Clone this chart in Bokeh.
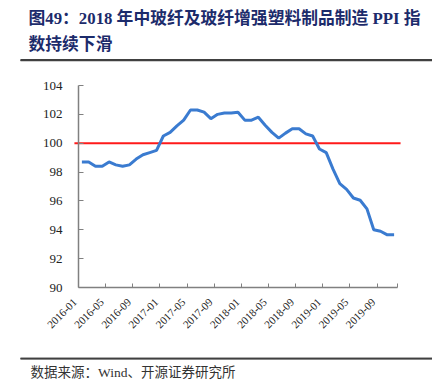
from bokeh.plotting import figure
from bokeh.models import Range1d, FixedTicker, Label, LinearAxis
from bokeh.embed import file_html
from bokeh.resources import INLINE

# ---- data ----
months = [f"{y}-{m:02d}" for y in range(2016, 2020) for m in range(1, 13)][:47]
ppi = [98.7, 98.7, 98.4, 98.4, 98.7, 98.5, 98.4, 98.5, 98.9, 99.2,
       99.35, 99.5, 100.5, 100.75, 101.2, 101.6, 102.3, 102.3, 102.15, 101.7,
       102.0, 102.1, 102.1, 102.15, 101.6, 101.6, 101.8, 101.25, 100.75, 100.35,
       100.7, 101.0, 101.0, 100.65, 100.5, 99.6, 99.35, 98.2, 97.2, 96.8,
       96.2, 96.05, 95.45, 94.0, 93.9, 93.65, 93.65]
ref_level = 100
tick_pos = [0, 4, 8, 12, 16, 20, 24, 28, 32, 36, 40, 44]
tick_labels = ["2016-01", "2016-05", "2016-09", "2017-01", "2017-05", "2017-09",
               "2018-01", "2018-05", "2018-09", "2019-01", "2019-05", "2019-09"]
y_ticks = [90, 92, 94, 96, 98, 100, 102, 104]
y_min, y_max = 90, 104

x_idx = list(range(len(months)))
x_lo, x_hi = -0.5, len(months) - 0.5

title_lines = ["图49：2018 年中玻纤及玻纤增强塑料制品制造 PPI 指", "数持续下滑"]
source_text = "数据来源：Wind、开源证券研究所"

serif = "'Liberation Serif', 'Noto Sans CJK SC'"

# ---- layout (canvas pixels) ----
W, H = 432, 383
AX_L, AX_R, AX_T, AX_B = 78, 397, 85, 287   # plotting area box
KX = (AX_R - AX_L) / (x_hi - x_lo)
KY = (AX_B - AX_T) / (y_max - y_min)
LABEL_SHIFT = 1   # rotated labels sit slightly left of their month


def dx(px):
    return x_lo + (px - AX_L) / KX


def dy(py):
    return y_min + (AX_B - py) / KY


p = figure(width=W, height=H, output_backend="svg", toolbar_location=None,
           min_border=0, min_border_left=0, min_border_right=0,
           min_border_top=0, min_border_bottom=0,
           x_range=Range1d(dx(0), dx(W)), y_range=Range1d(dy(H), dy(0)))
p.outline_line_color = None
p.xgrid.grid_line_color = None
p.ygrid.grid_line_color = None
p.background_fill_color = "white"
p.border_fill_color = "white"

# reference line at 100 (slightly overhanging the axes, as in the original)
p.segment(x0=[x_lo - 0.6], y0=[ref_level], x1=[x_hi + 0.45], y1=[ref_level],
          line_color="#ff1a1a", line_width=2)
p.line(x_idx, ppi, line_color="#3a7bd0", line_width=3)

# x axis: line + tick marks between month groups
xa = p.xaxis[0]
xa.fixed_location = y_min
xa.bounds = (x_lo, x_hi)
xa.ticker = FixedTicker(ticks=tick_pos, minor_ticks=[t - 0.5 for t in tick_pos[1:]] + [x_hi])
xa.major_label_text_color = None
xa.major_tick_in = 0
xa.major_tick_out = 0
xa.minor_tick_in = 4
xa.minor_tick_out = 0
xa.minor_tick_line_color = "#808080"
xa.axis_line_color = "#808080"
xa.axis_line_width = 1.5

# x tick labels (rotated)
lab_ticks = [t - LABEL_SHIFT for t in tick_pos]
xl = LinearAxis(fixed_location=y_min, bounds=(x_lo - 1, x_hi),
                ticker=FixedTicker(ticks=lab_ticks, minor_ticks=[]),
                major_label_overrides={t: l for t, l in zip(lab_ticks, tick_labels)},
                major_label_orientation=0.785398,
                axis_line_color=None, major_tick_line_color=None, minor_tick_line_color=None,
                major_tick_in=0, major_tick_out=0,
                major_label_text_font=serif, major_label_text_font_size="11px",
                major_label_text_color="#222222", major_label_standoff=13)
p.add_layout(xl, "below")

ya = p.yaxis[0]
ya.fixed_location = x_lo
ya.bounds = (y_min, y_max)
ya.ticker = FixedTicker(ticks=y_ticks)
ya.major_tick_in = 5
ya.major_tick_out = 0
ya.minor_tick_line_color = None
ya.major_tick_line_color = "#808080"
ya.axis_line_color = "#808080"
ya.axis_line_width = 1.5
ya.major_label_text_font = serif
ya.major_label_text_font_size = "13px"
ya.major_label_text_color = "#222222"
ya.major_label_standoff = 16

# title
for line, cy in zip(title_lines, [18, 44]):
    p.add_layout(Label(x=dx(28), y=dy(cy), text=line,
                       text_baseline="middle", text_align="left", text_font=serif,
                       text_font_style="bold", text_font_size="16.8px", text_color="#1c2b6b"))

# rules under the title and above the source line
rule_y = [dy(59.5), dy(358.1)]
p.quad(left=[dx(20)] * 2, right=[dx(432)] * 2,
       top=[y + 0.9 / KY for y in rule_y], bottom=[y - 0.9 / KY for y in rule_y],
       fill_color="#404040", line_color=None)
for loc, side in zip(rule_y, ["above", "below"]):
    rule_axis = LinearAxis(fixed_location=loc, bounds=(dx(20), dx(432)),
                           ticker=FixedTicker(ticks=[], minor_ticks=[]),
                           axis_line_color="#404040", axis_line_width=1.6,
                           major_tick_line_color=None, minor_tick_line_color=None,
                           major_label_text_color=None)
    p.add_layout(rule_axis, side)

# source
p.add_layout(Label(x=dx(30), y=dy(372), text=source_text,
                   text_baseline="middle", text_align="left", text_font=serif,
                   text_font_size="13.5px", text_color="#333333"))

open("out.html", "w").write(file_html(p, INLINE))
